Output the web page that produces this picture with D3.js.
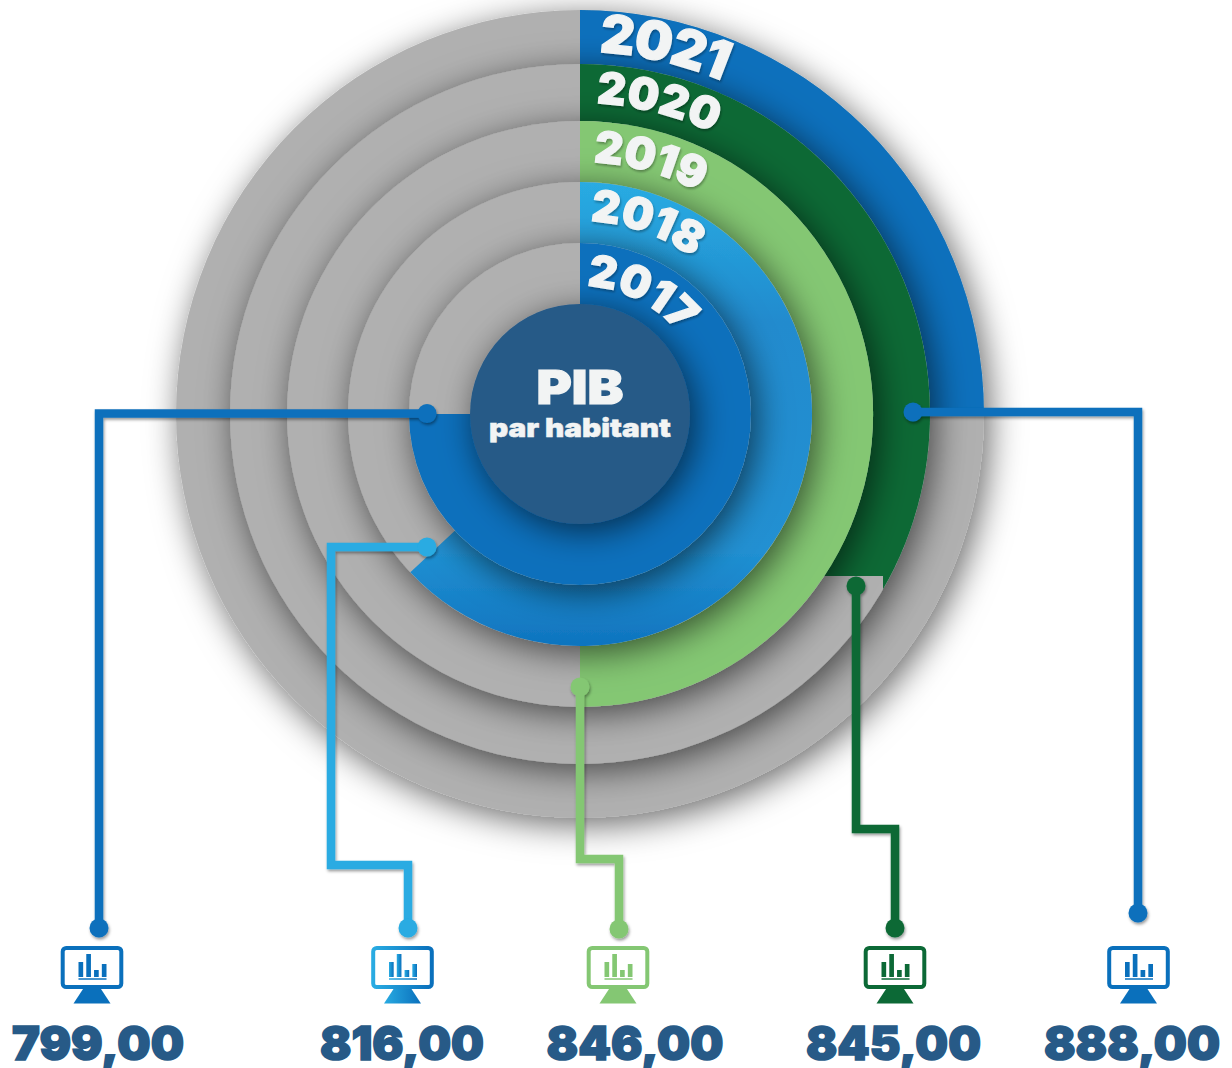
<!DOCTYPE html>
<html>
<head>
<meta charset="utf-8">
<style>
html, body { margin: 0; padding: 0; background: #fff; }
svg { display: block; }
text { font-family: Inter, "Noto Sans", sans-serif; font-weight: 900; }
</style>
<script src="https://cdn.jsdelivr.net/npm/d3@7"></script>
</head>
<body>
<script>
const years = [2017, 2018, 2019, 2020, 2021]
const values = [799, 816, 846, 845, 888]
const endDegrees = [270, 227, 180, 135, 90]
const iconBars = [15, 23, 7, 13]

const width = 1232, height = 1068
const cx = 580, cy = 414

const radius = d3.scaleOrdinal(years, [171, 232, 293, 350, 404])
const endAngle = d3.scaleOrdinal(years, endDegrees.map(d => d * Math.PI / 180))
const colour = d3.scaleOrdinal(years, ['#0a70bc', 'url(#grad2018)', '#84c773', '#0c6936', '#0a70bc'])
const lineColour = d3.scaleOrdinal(years, ['#0a70bc', '#29abe2', '#84c773', '#0c6936', '#0a70bc'])
const iconColour = d3.scaleOrdinal(years, ['#0a70bc', 'url(#gradIcon)', '#84c773', '#0c6936', '#0a70bc'])

const iconX = d3.scaleOrdinal(years, [92, 402.5, 618, 895, 1138.5])
const labelX = d3.scaleOrdinal(years, [98, 402, 635, 893.5, 1132])
const labelWidth = d3.scaleOrdinal(years, [172, 164, 177, 175, 176])

// year labels follow the rings: baseline radius, start angle in degrees, font size, tracking
const yearText = {
	2017: {r: 128, a: 3, size: 44, sp: 0.3},
	2018: {r: 193, a: 3, size: 44, sp: 0.3},
	2019: {r: 252, a: 3, size: 44, sp: 0.3},
	2020: {r: 311, a: 3, size: 44, sp: 0.6},
	2021: {r: 362, a: 3, size: 53, sp: -1.2}
}

// connector routes, from the dot on the ring to the dot above the icon
const routes = {
	2017: [[427, 413.5], [99, 413.5], [99, 928]],
	2018: [[427, 547], [331, 547], [331, 865], [408, 865], [408, 928]],
	2019: [[580, 687], [580, 859], [619, 859], [619, 929]],
	2020: [[856, 586], [856, 829], [895, 829], [895, 928]],
	2021: [[913, 412], [1138, 412], [1138, 913]]
}

const svg = d3.select('body').append('svg')
.attr('width', width)
.attr('height', height)

const defs = svg.append('defs')

const shadow = (id, dx, dy, std, op) => {
	defs.append('filter')
	.attr('id', id)
	.attr('x', '-30%').attr('y', '-30%')
	.attr('width', '160%').attr('height', '160%')
	.append('feDropShadow')
	.attr('dx', dx).attr('dy', dy)
	.attr('stdDeviation', std)
	.attr('flood-color', '#000')
	.attr('flood-opacity', op)
}
shadow('ringShadow', 5, 7, 17, 0.6)
shadow('smallShadow', 1, 2, 1.6, 0.4)
shadow('textShadow', 1, 2, 1.2, 0.3)

// wedges are drawn around the origin, so the gradient runs in that space
const grad = defs.append('linearGradient')
.attr('id', 'grad2018')
.attr('gradientUnits', 'userSpaceOnUse')
.attr('x1', 0).attr('y1', -232).attr('x2', 0).attr('y2', 232)
grad.append('stop').attr('offset', 0).attr('stop-color', '#29abe2')
grad.append('stop').attr('offset', 0.3).attr('stop-color', '#208bce')
grad.append('stop').attr('offset', 0.8).attr('stop-color', '#2090d2')
grad.append('stop').attr('offset', 1).attr('stop-color', '#0f74bf')

const gradIcon = defs.append('linearGradient').attr('id', 'gradIcon')
gradIcon.append('stop').attr('offset', 0).attr('stop-color', '#29abe2')
gradIcon.append('stop').attr('offset', 1).attr('stop-color', '#0a70bc')

// 2020 wedge has a flat cut at the bottom
const clip2020 = defs.append('clipPath').attr('id', 'clip2020')
clip2020.append('rect').attr('x', 0).attr('y', 0).attr('width', width).attr('height', 576)
clip2020.append('rect').attr('x', 883).attr('y', 0).attr('width', width).attr('height', height)

const rings = svg.append('g')
const leaders = svg.append('g')
const yearLabels = svg.append('g')
const icons = svg.append('g')
const labels = svg.append('g')

const wedge = d3.arc().innerRadius(0).startAngle(0)

years.slice().reverse().forEach(year => {

	let g = rings.append('g')
	.attr('filter', 'url(#ringShadow)')

	g.append('circle')
	.attr('cx', cx)
	.attr('cy', cy)
	.attr('r', radius(year))
	.attr('fill', '#b0b0b0')

	let clipWrap = g.append('g')
	if(year === 2020) clipWrap.attr('clip-path', 'url(#clip2020)')

	clipWrap.append('path')
	.attr('transform', `translate(${cx},${cy})`)
	.attr('d', wedge({outerRadius: radius(year), endAngle: endAngle(year)}))
	.attr('fill', colour(year))
})

rings.append('circle')
.attr('cx', cx)
.attr('cy', cy)
.attr('r', 110)
.attr('fill', '#275a87')
.attr('filter', 'url(#ringShadow)')

rings.append('text')
.attr('x', cx)
.attr('y', 404)
.attr('text-anchor', 'middle')
.attr('font-size', 47)
.attr('fill', '#f2f4f4')
.attr('stroke', '#f2f4f4')
.attr('stroke-width', 1.2)
.attr('textLength', 87)
.attr('lengthAdjust', 'spacingAndGlyphs')
.text('PIB')

rings.append('text')
.attr('x', cx)
.attr('y', 437)
.attr('text-anchor', 'middle')
.attr('font-size', 26)
.attr('fill', '#f2f4f4')
.attr('stroke', '#f2f4f4')
.attr('stroke-width', 0.5)
.attr('textLength', 182)
.attr('lengthAdjust', 'spacingAndGlyphs')
.text('par habitant')

const routeLine = d3.line()

years.forEach((year, i) => {

	let route = routes[year]
	let g = leaders.append('g').attr('filter', 'url(#smallShadow)')

	g.append('path')
	.attr('d', routeLine(route))
	.attr('fill', 'none')
	.attr('stroke', lineColour(year))
	.attr('stroke-width', 8.5)
	.attr('stroke-linejoin', 'miter')

	g.selectAll('circle')
	.data([route[0], route[route.length - 1]])
	.join('circle')
	.attr('cx', d => d[0])
	.attr('cy', d => d[1])
	.attr('r', 9.5)
	.attr('fill', lineColour(year))
})

years.forEach(year => {

	let t = yearText[year]
	let a0 = (t.a - 90) * Math.PI / 180
	let p = d3.path()
	p.arc(cx, cy, t.r, a0, a0 + Math.PI * 0.8)

	defs.append('path')
	.attr('id', `arc${year}`)
	.attr('d', p.toString())

	yearLabels.append('text')
	.attr('font-size', t.size)
	.attr('letter-spacing', t.sp)
	.attr('fill', '#f2f4f4')
	.attr('stroke', '#f2f4f4')
	.attr('stroke-width', 1.2)
	.attr('filter', 'url(#textShadow)')
	.append('textPath')
	.attr('href', `#arc${year}`)
	.text(year)
})

const iconY = 946
const barScale = d3.scaleBand().domain(d3.range(iconBars.length)).range([-13.5, 14.5]).paddingInner(0.4)

years.forEach((year, i) => {

	let g = icons.append('g')
	.attr('transform', `translate(${iconX(year)},${iconY})`)
	let c = iconColour(year)

	g.append('rect')
	.attr('x', -29.3).attr('y', 2)
	.attr('width', 58.6).attr('height', 39)
	.attr('rx', 3.5)
	.attr('fill', '#fff')
	.attr('stroke', c)
	.attr('stroke-width', 4)

	g.append('path')
	.attr('d', d3.line()([[-9, 43], [9, 43], [18.5, 57.5], [-18.5, 57.5]]) + 'Z')
	.attr('fill', c)

	g.selectAll('.bar')
	.data(iconBars)
	.join('rect')
	.attr('class', 'bar')
	.attr('x', (d, j) => barScale(j))
	.attr('y', d => 31 - d)
	.attr('width', barScale.bandwidth())
	.attr('height', d => d)
	.attr('fill', c)

	g.append('rect')
	.attr('x', -13.5).attr('y', 32)
	.attr('width', 28).attr('height', 2)
	.attr('fill', c)
	.attr('opacity', 0.75)

	labels.append('text')
	.attr('x', labelX(year))
	.attr('y', 1059.5)
	.attr('text-anchor', 'middle')
	.attr('font-size', 47)
	.attr('fill', '#275a87')
	.attr('stroke', '#275a87')
	.attr('stroke-width', 1.6)
	.attr('textLength', labelWidth(year))
	.attr('lengthAdjust', 'spacingAndGlyphs')
	.text(values[i].toFixed(2).replace('.', ','))
})
</script>
</body>
</html>
